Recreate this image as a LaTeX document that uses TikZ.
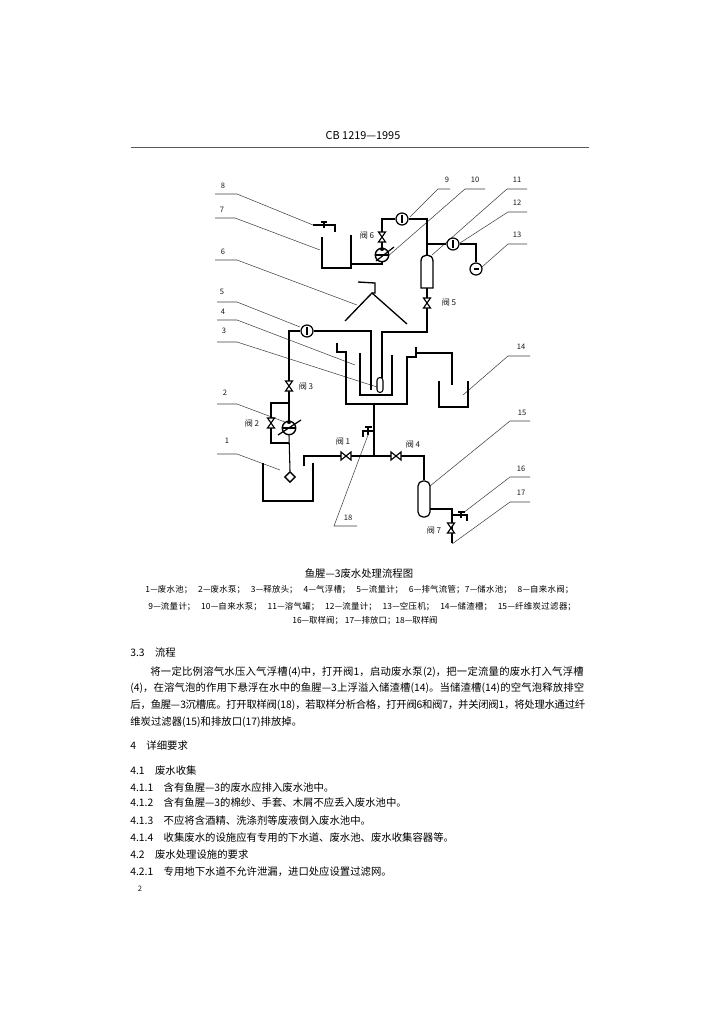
\documentclass[tikz,border=0pt]{standalone}
\usepackage{fontspec}
\usetikzlibrary{shapes.geometric}
\setmainfont{Noto Sans CJK SC}
\XeTeXlinebreaklocale "zh"
\XeTeXlinebreakskip=0pt plus 3pt minus 1pt

\newcommand{\valveV}[3]{
  \coordinate (#1) at (#2,#3);
  \filldraw[valve] (#2-3.5,#3-5) -- (#2+3.5,#3-5) -- (#2-3.5,#3+5) -- (#2+3.5,#3+5) -- cycle;
}
\newcommand{\valveH}[3]{
  \coordinate (#1) at (#2,#3);
  \filldraw[valve] (#2-5,#3-4) -- (#2-5,#3+4) -- (#2+5,#3-4) -- (#2+5,#3+4) -- cycle;
}
\newcommand{\bodyline}[6]{
  \node[bodytext,text width=#4cm] (#1) at (#2,#3) {\fontsize{#5}{#5}\selectfont #6\par};
}

\begin{document}
\begin{tikzpicture}[x=0.02cm,y=-0.02cm,
  pipe/.style={line width=0.6pt,black},
  wall/.style={line width=0.75pt,black},
  leader/.style={line width=0.3pt,black!75},
  valve/.style={line width=0.65pt,black,fill=white},
  gauge/.style={circle,draw,line width=0.7pt,fill=white,minimum size=0.24cm,inner sep=0pt},
  pumpbody/.style={circle,draw,line width=0.8pt,fill=white,minimum size=0.27cm,inner sep=0pt},
  tag/.style={font=\fontsize{4.3}{5}\selectfont,inner sep=0pt,black!90},
  valvetag/.style={font=\fontsize{4.6}{5}\selectfont,inner sep=0pt,black!90},
  bodytext/.style={anchor=west,inner sep=0pt,execute at begin node={\parfillskip=0pt\relax}},
  plaintext/.style={anchor=west,inner sep=0pt,font=\fontsize{5.9}{7}\selectfont}]
\useasboundingbox (0,0) rectangle (725,1024);
\fill[white] (0,0) rectangle (725,1024);

\node[font=\fontsize{6.2}{7}\selectfont,inner sep=0pt] (pageHead) at (363,136) {CB 1219—1995};
\coordinate (ruleL) at (131,147);
\coordinate (ruleR) at (589,147);
\draw[line width=0.5pt,black!65] (ruleL) -- (ruleR);

\foreach \n/\lx/\ly/\ax/\bx/\by/\ex/\ey in {
8/223/186/215/237/194/313/225,
7/222/210/215/235/218/320/250,
6/223/252/215/237/260/357/305,
5/222/292/217/237/302/300/327,
4/223/312/217/237/320/355/365,
3/224/331/217/237/342/377/387,
9/447/180/450/438/189/410/217,
10/475/180/485/465/189/387/257,
11/517/180/527/507/189/432/255,
12/517/203/527/508/212/460/243,
13/517/235/527/508/244/482/267,
14/521/347/530/508/356/463/395,
2/225/393/217/237/404/285/422,
1/227/441/217/237/454/280/470,
15/522/413/530/510/421/430/486,
16/521/469/530/510/477/463/513,
17/521/493/530/510/502/452/544,
18/348/518/357/334/526/368/435}
{
  \node[tag] (tag\n) at (\lx,\ly) {\n};
  \coordinate (tail\n) at (\ax,\by);
  \coordinate (bend\n) at (\bx,\by);
  \coordinate (tip\n) at (\ex,\ey);
  \draw[leader] (tail\n) -- (bend\n) -- (tip\n);
}

\foreach \n/\x/\y/\t in {valveTagSix/367/235/阀 6,valveTagFive/449/302/阀 5,valveTagThree/306/386/阀 3,
  valveTagTwo/252/423/阀 2,valveTagOne/343/441/阀 1,valveTagFour/413/444/阀 4,valveTagSeven/434/530/阀 7}
  \node[valvetag] (\n) at (\x,\y) {\t};

\node[pumpbody] (pumpTen) at (382,255) {};
\node[pumpbody] (pumpTwo) at (289,428) {};
\node[gauge] (gaugeNine) at (402,219) {};
\node[gauge] (gaugeTwelve) at (453,244) {};
\node[gauge] (gaugeFive) at (307,331) {};
\node[gauge] (compressor) at (476,269) {};
\node[diamond,draw,line width=0.8pt,aspect=1,minimum size=0.22cm,inner sep=0pt] (strainer) at (290,477) {};
\node[draw,line width=0.6pt,rounded corners=0.06cm,minimum width=0.12cm,minimum height=0.3cm,inner sep=0pt] (releaseHead) at (380,385) {};
\node[draw,line width=0.7pt,rounded corners=0.1cm,minimum width=0.24cm,minimum height=0.72cm,inner sep=0pt] (carbonFilter) at (424,499) {};

\coordinate (tankSevenOut) at (351,264);
\coordinate (airTankTop) at (427,255);
\coordinate (airTankBase) at (427,288);
\coordinate (airJoint) at (427,244);
\coordinate (feedElbow) at (382,332);
\coordinate (headIn) at (382,378);
\coordinate (sideElbow) at (289,331);
\coordinate (sideDrop) at (371,331);
\coordinate (sideEnd) at (371,390);
\coordinate (bypassTop) at (289,403);
\coordinate (bypassBase) at (289,443);
\coordinate (bypassLeft) at (271,403);
\coordinate (bypassLow) at (271,443);
\coordinate (rawIn) at (304,466);
\coordinate (rawTop) at (304,456);
\coordinate (rawJoint) at (374,456);
\coordinate (floatBase) at (374,404);
\coordinate (filterIn) at (424,456);
\coordinate (filterOut) at (430,509);
\coordinate (drainJoint) at (452,509);
\coordinate (drainEnd) at (452,543);
\coordinate (tapJoint) at (452,515);
\coordinate (tapEnd) at (467,515);
\coordinate (sampleJoint) at (375,431);

\draw[pipe] (tankSevenOut) -| (pumpTen.south);
\draw[pipe] (pumpTen.north) |- (gaugeNine.west);
\draw[pipe] (gaugeNine.east) -| (airTankTop);
\draw[pipe] (airJoint) -- (gaugeTwelve.west);
\draw[pipe] (gaugeTwelve.east) -| (compressor.north);
\draw[pipe] (airTankBase) |- (feedElbow) -- (headIn);
\draw[pipe] (pumpTwo.north) -- (sideElbow) -- (gaugeFive.west);
\draw[pipe] (gaugeFive.east) -- (sideDrop) -- (sideEnd);
\draw[pipe] (pumpTwo.south) -- (strainer.north);
\draw[pipe] (bypassTop) -- (bypassLeft) -- (bypassLow) -- (bypassBase);
\draw[pipe] (rawIn) -- (rawTop) -| (filterIn) -- (carbonFilter.north);
\draw[pipe] (rawJoint) -- (floatBase);
\draw[pipe] (filterOut) -- (drainJoint) -- (drainEnd);
\draw[pipe] (tapJoint) -- (tapEnd) -- ++(0,6);

\draw[wall] (322,237) -- (322,268) -- (351,268) -- (351,235);
\draw[wall] (421,288) -- (421,261) .. controls (421,257) and (424,255) .. (427,255) .. controls (430,255) and (433,257) .. (433,261) -- (433,288) -- cycle;
\draw[wall] (345,321) -- (372,293) -- (407,324);
\draw[wall] (372,293) -- (375,293) -- (375,283) -- (358,282);
\draw[wall] (337,343) -- (337,352) -- (346,352) -- (346,404) -- (407,404) -- (407,357) -- (416,357) -- (416,347);
\draw[wall] (416,353) -- (452,353) -- (452,385);
\draw[wall] (360,353) -- (360,395) -- (392,395) -- (392,355);
\draw[wall] (439,381) -- (439,407) -- (468,407) -- (468,381);
\draw[wall] (263,463) -- (263,501) -- (313,501) -- (313,463);

\draw[pipe] (313,225) -- (335,225) -- (335,232);
\draw[line width=0.7pt] (321,222) -- (327,222);
\draw[line width=0.7pt] (324,222) -- (324,228);
\draw[pipe] (363,437) -- (363,431) -- (sampleJoint);
\draw[line width=0.7pt] (365,427) -- (372,427);
\draw[line width=0.7pt] (368,427) -- (368,435);
\draw[line width=0.7pt] (458,512) -- (465,512);
\draw[line width=0.7pt] (461,512) -- (461,518);

\foreach \g in {gaugeNine,gaugeTwelve,gaugeFive}
  \draw[line width=0.8pt,shorten <=1.3pt,shorten >=1.3pt] (\g.north) -- (\g.south);
\fill (compressor.center) ++(-2.5,-1.5) rectangle ++(5,2);
\foreach \p/\tx/\ty/\ux/\uy in {pumpTen/376/261/394/247,pumpTwo/278/435/301/420}{
  \draw[pipe] (\p.west) -- (\p.east);
  \fill (\p.north) ++(0,1.5) circle (2);
  \coordinate (\p Low) at (\tx,\ty);
  \coordinate (\p High) at (\ux,\uy);
  \draw[line width=0.7pt] (\p Low) -- (\p High);
}

\valveV{valveSix}{382}{237}
\valveV{valveFive}{427}{303}
\valveV{valveThree}{289}{386}
\valveV{valveTwo}{271}{423}
\valveV{valveSeven}{451}{528}
\valveH{valveOne}{346}{456}
\valveH{valveFour}{396}{456}

\node[font=\fontsize{5.9}{7}\selectfont,inner sep=0pt] (caption) at (359,574) {鱼腥—3废水处理流程图};
\bodyline{legendA}{145}{590}{8.6}{4.8}{1—废水池； 2—废水泵； 3—释放头； 4—气浮槽； 5—流量计； 6—排气流管；7—储水池； 8—自来水阀；}
\bodyline{legendB}{148}{607}{8.6}{4.8}{9—流量计； 10—自来水泵； 11—溶气罐； 12—流量计； 13—空压机； 14—储渣槽； 15—纤维炭过滤器；}
\node[font=\fontsize{4.8}{6}\selectfont,inner sep=0pt] (legendC) at (365,621) {16—取样阀； 17—排放口；18—取样阀};

\node[plaintext] (headProcess) at (130,653) {3.3\quad 流程};
\bodyline{flowA}{150}{672}{8.7}{5.9}{将一定比例溶气水压入气浮槽(4)中，打开阀1，启动废水泵(2)，把一定流量的废水打入气浮槽}
\bodyline{flowB}{130}{688}{9.1}{5.9}{(4)，在溶气泡的作用下悬浮在水中的鱼腥—3上浮溢入储渣槽(14)。当储渣槽(14)的空气泡释放排空}
\bodyline{flowC}{130}{705}{9.1}{5.9}{后，鱼腥—3沉槽底。打开取样阀(18)，若取样分析合格，打开阀6和阀7，并关闭阀1，将处理水通过纤}
\node[plaintext] (flowD) at (130,722) {维炭过滤器(15)和排放口(17)排放掉。};
\node[plaintext] (headFour) at (130,746) {4\quad 详细要求};

\foreach \n/\y/\t in {
itemA/771/4.1\quad 废水收集,
itemB/788/4.1.1\quad 含有鱼腥—3的废水应排入废水池中。,
itemC/803/4.1.2\quad 含有鱼腥—3的棉纱、手套、木屑不应丢入废水池中。,
itemD/821/4.1.3\quad 不应将含酒精、洗涤剂等废液倒入废水池中。,
itemE/838/4.1.4\quad 收集废水的设施应有专用的下水道、废水池、废水收集容器等。,
itemF/855/4.2\quad 废水处理设施的要求,
itemG/872/4.2.1\quad 专用地下水道不允许泄漏，进口处应设置过滤网。}
  \node[plaintext] (\n) at (130,\y) {\t};

\node[tag] (pageNumber) at (140,889) {2};

\end{tikzpicture}
\end{document}
